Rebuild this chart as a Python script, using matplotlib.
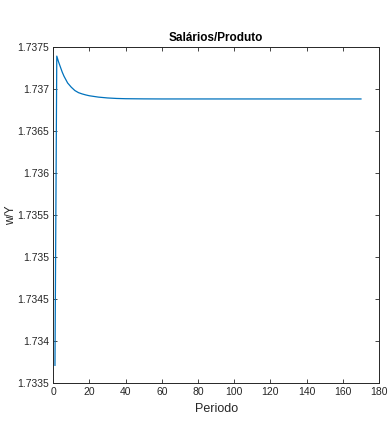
import matplotlib
matplotlib.use('Agg')
import matplotlib.pyplot as plt
import numpy as np

plt.rcParams['font.family'] = ['Liberation Sans', 'DejaVu Sans']

# valores
periodo = [1, 2, 3, 4, 5, 6, 7, 8, 10, 12, 14, 16, 18, 20, 25, 30, 35, 40, 50, 60, 80, 100, 120, 140, 160, 170]
wy = [1.73371, 1.73739, 1.73732, 1.73726, 1.73720, 1.73715, 1.73711, 1.73707, 1.73702, 1.73698,
      1.736955, 1.736940, 1.736928, 1.736918, 1.736902, 1.736892, 1.736886, 1.736883, 1.736881, 1.73688,
      1.73688, 1.73688, 1.73688, 1.73688, 1.73688, 1.73688]

xticks = np.arange(0, 181, 20)
yticks = [1.7335, 1.734, 1.7345, 1.735, 1.7355, 1.736, 1.7365, 1.737, 1.7375]
yticklabels = ['1.7335', '1.734', '1.7345', '1.735', '1.7355', '1.736', '1.7365', '1.737', '1.7375']

fig = plt.figure(figsize=(3.88, 4.26), dpi=100)
ax = fig.add_axes([0.137, 0.101, 0.840, 0.789])
ax.plot(periodo, wy, color='#0072BD', linewidth=0.9)

ax.set_xlim(0, 180)
ax.set_ylim(1.7335, 1.7375)
ax.set_xticks(xticks)
ax.set_yticks(yticks)
ax.set_yticklabels(yticklabels)
ax.tick_params(direction='in', top=True, right=True, length=3, width=0.6,
               labelsize=7.5, colors='#262626', pad=3)
for s in ax.spines.values():
    s.set_linewidth(0.7)
    s.set_color('#262626')

ax.set_title('Salários/Produto', fontsize=8.5, fontweight='bold', pad=4)
ax.set_xlabel('Periodo', fontsize=9, color='#262626', labelpad=4)
ax.set_ylabel('w/Y', fontsize=8.5, color='#262626')
ax.yaxis.set_label_coords(-0.11, 0.5)

fig.savefig('out.png', dpi=100)
